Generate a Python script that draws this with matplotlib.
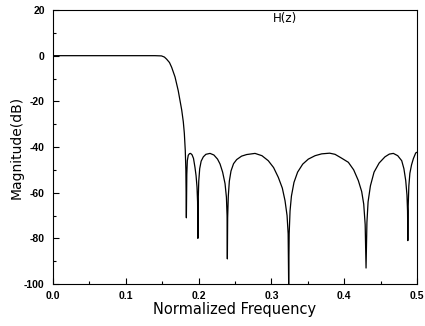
from __future__ import annotations

import matplotlib

matplotlib.use("Agg")
import matplotlib.pyplot as plt
from matplotlib.ticker import MultipleLocator


# =========================
# Data
# =========================
# Normalized frequency and magnitude (dB) of H(z)
FREQ = [
    0.000, 0.050, 0.100, 0.140, 0.149, 0.153, 0.156, 0.160, 0.163, 0.1676,
    0.172, 0.1768, 0.1790, 0.1804, 0.1817, 0.1825, 0.1832,
    # lobe 1
    0.1838, 0.1845, 0.1858, 0.1875, 0.1890, 0.1910, 0.1930, 0.1950, 0.1965,
    0.1978, 0.1986, 0.1990,
    # lobe 2
    0.1994, 0.2002, 0.2015, 0.2035, 0.2065, 0.2100, 0.2157, 0.2210, 0.2260,
    0.2294, 0.2330, 0.2363, 0.2382, 0.2391, 0.2395,
    # lobe 3
    0.2399, 0.2408, 0.2422, 0.2445, 0.2480, 0.2523, 0.2590, 0.2660, 0.2775,
    0.2870, 0.2957, 0.3030, 0.3095, 0.3150, 0.3187, 0.3215, 0.3230, 0.3237,
    # lobe 4
    0.3244, 0.3256, 0.3275, 0.3310, 0.3360, 0.3430, 0.3507, 0.3600, 0.3690,
    0.3800, 0.3874, 0.3960, 0.4057, 0.4130, 0.4194, 0.4240, 0.4268, 0.4288,
    0.4300,
    # lobe 5
    0.4312, 0.4328, 0.4360, 0.4410, 0.4480, 0.4560, 0.4620, 0.4675, 0.4735,
    0.4790, 0.4820, 0.4845, 0.4862, 0.4870, 0.4874,
    # lobe 6
    0.4879, 0.4888, 0.4902, 0.4925, 0.4950, 0.4982, 0.5000,
]

MAG_DB = [
    0.0, 0.0, 0.0, 0.0, -0.1, -0.6, -1.5, -3.0, -5.1, -9.3,
    -15.3, -23.8, -29.0, -34.0, -41.6, -50.0, -71.0,
    # lobe 1
    -52.0, -46.0, -43.6, -42.9, -42.8, -43.4, -45.0, -48.9, -52.5,
    -57.5, -64.0, -80.0,
    # lobe 2
    -64.0, -55.0, -49.5, -46.2, -44.3, -43.2, -42.8, -43.5, -45.3,
    -47.4, -51.0, -56.0, -62.0, -70.0, -89.0,
    # lobe 3
    -71.0, -61.5, -55.0, -50.5, -47.3, -45.5, -44.0, -43.3, -42.8,
    -43.8, -46.0, -49.0, -53.3, -58.0, -63.5, -70.0, -78.0, -100.0,
    # lobe 4
    -78.0, -68.0, -61.5, -55.5, -51.0, -47.5, -45.3, -43.8, -43.0,
    -42.7, -43.2, -44.8, -46.7, -50.0, -54.7, -59.5, -65.0, -74.0,
    -93.0,
    # lobe 5
    -73.0, -64.0, -57.0, -51.0, -47.0, -44.3, -43.1, -42.8, -43.8,
    -46.0, -49.5, -54.7, -61.0, -68.0, -81.0,
    # lobe 6
    -66.0, -57.0, -51.5, -47.8, -45.1, -42.6, -42.3,
]

X_TICKS = [0.0, 0.1, 0.2, 0.3, 0.4, 0.5]
X_TICK_LABELS = ["0.0", "0.1", "0.2", "0.3", "0.4", "0.5"]
Y_TICKS = [20, 0, -20, -40, -60, -80, -100]
Y_TICK_LABELS = ["20", "0", "-20", "-40", "-60", "-80", "-100"]

TITLE_TEXT = "H(z)"
X_LABEL = "Normalized Frequency"
Y_LABEL = "Magnitude(dB)"


# =========================
# Plot
# =========================
def make_figure() -> None:
    fig = plt.figure(figsize=(4.25, 3.26), dpi=100)
    ax = fig.add_axes([0.1247, 0.1288, 0.8565, 0.8405])

    ax.plot(FREQ, MAG_DB, color="black", linewidth=0.9)

    ax.set_xlim(0.0, 0.5)
    ax.set_ylim(-100, 20)

    ax.set_xticks(X_TICKS)
    ax.set_xticklabels(X_TICK_LABELS)
    ax.set_yticks(Y_TICKS)
    ax.set_yticklabels(Y_TICK_LABELS)
    ax.xaxis.set_minor_locator(MultipleLocator(0.05))
    ax.yaxis.set_minor_locator(MultipleLocator(10))

    ax.tick_params(which="both", direction="in", top=False, right=False,
                   width=0.8, colors="black")
    ax.tick_params(which="major", length=4)
    ax.tick_params(which="minor", length=2)
    ax.tick_params(axis="y", pad=6, labelsize=7.5)
    ax.tick_params(axis="x", pad=5, labelsize=7.5)
    for lab in ax.get_xticklabels() + ax.get_yticklabels():
        lab.set_fontweight("bold")
        lab.set_family("Liberation Sans")

    for spine in ax.spines.values():
        spine.set_linewidth(0.8)
        spine.set_color("black")

    ax.set_xlabel(X_LABEL, fontsize=10.5, labelpad=1, family="DejaVu Sans")
    ax.set_ylabel(Y_LABEL, fontsize=10, labelpad=0, family="DejaVu Sans")

    ax.text(0.319, 16.2, TITLE_TEXT, fontsize=8.5, ha="center", va="center",
            family="DejaVu Sans")

    fig.savefig("out.png", dpi=100)
    plt.close(fig)


def main() -> None:
    make_figure()


if __name__ == "__main__":
    main()
